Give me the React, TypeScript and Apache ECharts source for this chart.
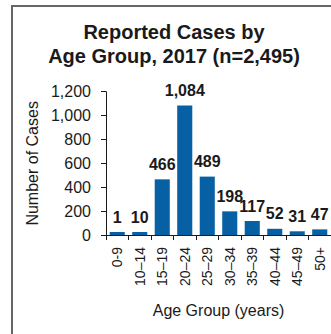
import React, { useEffect, useRef } from "react";
import * as echarts from "echarts";

const categories = ["0-9", "10–14", "15–19", "20–24", "25–29", "30–34", "35–39", "40–44", "45–49", "50+"];
const cases = [1, 10, 466, 1084, 489, 198, 117, 52, 31, 47];
const caseLabels = ["1", "10", "466", "1,084", "489", "198", "117", "52", "31", "47"];
const titleLines = ["Reported Cases by", "Age Group, 2017 (n=2,495)"];
const yTicks = { min: 0, max: 1200, interval: 200 };

const FONT = '"Liberation Sans", Arial, Helvetica, sans-serif';
const BLUE = "#0660a3";

export default function App() {
  const ref = useRef<HTMLDivElement>(null);
  useEffect(() => {
    if (!ref.current) return;
    const chart = echarts.init(ref.current, undefined, { renderer: "svg" });
    chart.setOption({
      animation: false,
      textStyle: { fontFamily: FONT },
      graphic: [
        {
          type: "line",
          shape: { x1: 12, y1: 5, x2: 12, y2: 334 },
          style: { stroke: "#666666", lineWidth: 2 },
        },
        {
          type: "line",
          shape: { x1: 11, y1: 6, x2: 331, y2: 6 },
          style: { stroke: "#666666", lineWidth: 2 },
        },
        {
          type: "text",
          x: 174,
          y: 20,
          style: {
            text: titleLines.join("\n"),
            textAlign: "center",
            textVerticalAlign: "top",
            fontFamily: FONT,
            fontSize: 20,
            fontWeight: "bold",
            lineHeight: 24,
            fill: "#1a1a1a",
          },
        },
      ],
      grid: { left: 106, right: 0, top: 91.7, bottom: 99, containLabel: false },
      xAxis: {
        type: "category",
        data: categories,
        boundaryGap: true,
        name: "Age Group (years)",
        nameLocation: "middle",
        nameGap: 67,
        nameTextStyle: { fontSize: 16, color: "#1a1a1a", fontFamily: FONT },
        axisLine: { show: true, lineStyle: { color: "#1a1a1a", width: 1 } },
        axisTick: { show: true, alignWithLabel: false, length: 5, lineStyle: { color: "#1a1a1a" } },
        axisLabel: { rotate: 90, margin: 12, fontSize: 14, color: "#1a1a1a", fontFamily: FONT, interval: 0 },
        splitLine: { show: false },
      },
      yAxis: {
        type: "value",
        min: yTicks.min,
        max: yTicks.max,
        interval: yTicks.interval,
        name: "Number of Cases",
        nameLocation: "middle",
        nameGap: 64,
        nameTextStyle: { fontSize: 16, color: "#1a1a1a", fontFamily: FONT },
        axisLine: { show: true, lineStyle: { color: "#1a1a1a", width: 1 } },
        axisTick: { show: true, length: 5, lineStyle: { color: "#1a1a1a" } },
        axisLabel: {
          margin: 15,
          fontSize: 16,
          color: "#1a1a1a",
          fontFamily: FONT,
          formatter: (v: number) => v.toLocaleString("en-US"),
        },
        splitLine: { show: false },
      },
      series: [
        {
          type: "bar",
          data: cases,
          barWidth: "67%",
          barMinHeight: 3,
          itemStyle: { color: BLUE },
          label: {
            show: true,
            position: "top",
            distance: 7,
            fontSize: 16,
            fontWeight: "bold",
            color: "#1a1a1a",
            fontFamily: FONT,
            formatter: (p: any) => caseLabels[p.dataIndex],
          },
        },
      ],
    });
    return () => chart.dispose();
  }, []);
  return (
    <div
      ref={ref}
      style={{ position: "fixed", left: 0, top: 0, width: 331, height: 334, background: "#ffffff" }}
    />
  );
}
